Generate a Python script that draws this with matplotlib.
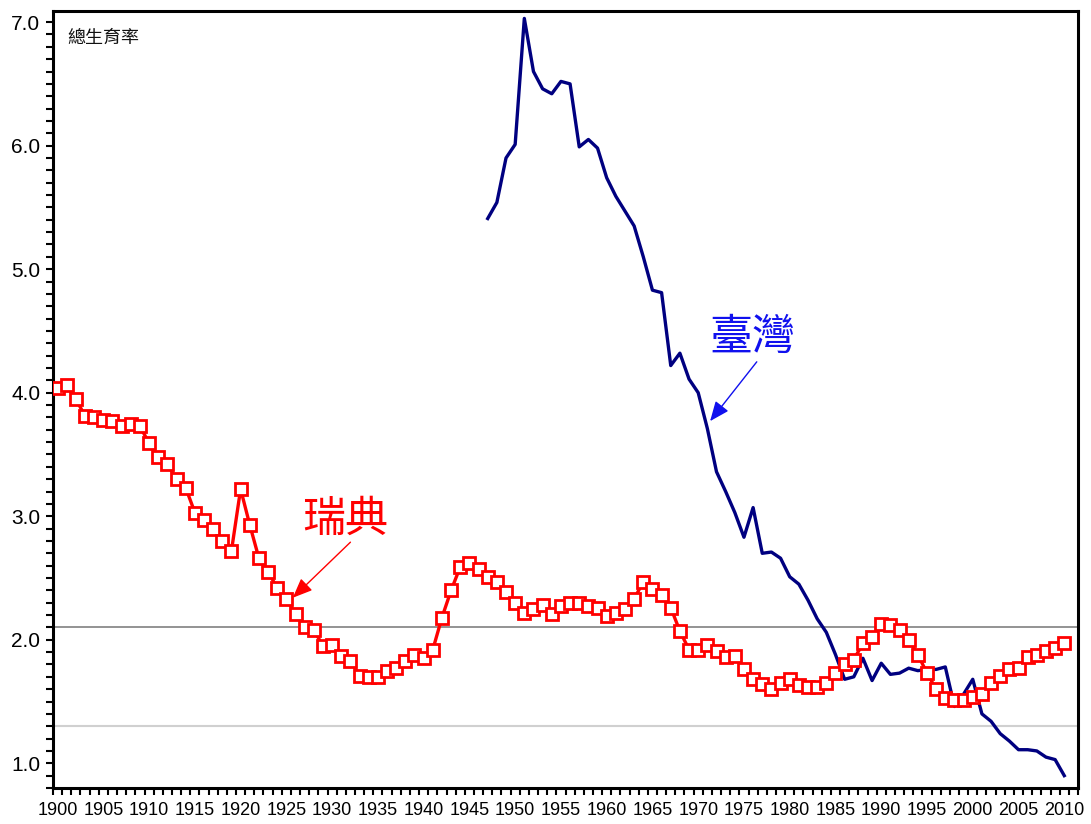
import matplotlib
matplotlib.use("Agg")
import matplotlib.pyplot as plt
from matplotlib.ticker import MultipleLocator, FixedLocator

plt.rcParams['font.family'] = ['Liberation Sans', 'Noto Sans CJK TC', 'DejaVu Sans']

sweden_years = list(range(1900, 2011))
sweden_tfr = [
    4.04, 4.06, 3.95, 3.81, 3.80, 3.78, 3.77, 3.73, 3.75, 3.73,   # 1900-1909
    3.59, 3.48, 3.42, 3.30, 3.23, 3.03, 2.97, 2.90, 2.80, 2.72,   # 1910-1919
    3.22, 2.93, 2.66, 2.55, 2.42, 2.33, 2.21, 2.10, 2.08, 1.95,   # 1920-1929
    1.96, 1.87, 1.83, 1.71, 1.70, 1.70, 1.75, 1.77, 1.83, 1.88,   # 1930-1939
    1.85, 1.92, 2.18, 2.40, 2.59, 2.62, 2.57, 2.51, 2.47, 2.39,   # 1940-1949
    2.30, 2.22, 2.25, 2.28, 2.21, 2.27, 2.30, 2.30, 2.27, 2.26,   # 1950-1959
    2.19, 2.22, 2.25, 2.33, 2.47, 2.41, 2.36, 2.26, 2.07, 1.92,   # 1960-1969
    1.92, 1.96, 1.91, 1.86, 1.87, 1.76, 1.68, 1.64, 1.60, 1.65,   # 1970-1979
    1.68, 1.63, 1.62, 1.62, 1.65, 1.73, 1.80, 1.84, 1.97, 2.02,   # 1980-1989
    2.13, 2.12, 2.08, 2.00, 1.88, 1.73, 1.60, 1.53, 1.51, 1.51,   # 1990-1999
    1.54, 1.56, 1.65, 1.71, 1.76, 1.77, 1.86, 1.88, 1.91, 1.93,   # 2000-2009
    1.97,                                                         # 2010
]

taiwan_years = list(range(1947, 2011))
taiwan_tfr = [
    5.41, 5.54, 5.90,                                             # 1947-1949
    6.01, 7.03, 6.60, 6.46, 6.42, 6.52, 6.50, 5.99, 6.05, 5.98,   # 1950-1959
    5.74, 5.59, 5.47, 5.35, 5.10, 4.83, 4.81, 4.22, 4.32, 4.11,   # 1960-1969
    4.00, 3.71, 3.36, 3.20, 3.03, 2.83, 3.07, 2.70, 2.71, 2.66,   # 1970-1979
    2.51, 2.45, 2.32, 2.17, 2.06, 1.88, 1.68, 1.70, 1.85, 1.67,   # 1980-1989
    1.81, 1.72, 1.73, 1.77, 1.75, 1.76, 1.76, 1.78, 1.46, 1.56,   # 1990-1999
    1.68, 1.40, 1.34, 1.24, 1.18, 1.11, 1.11, 1.10, 1.05, 1.03,   # 2000-2009
    0.90,                                                         # 2010
]

replacement_level = 2.1
lowest_low_level = 1.3

x_labels = list(range(1900, 2011, 5))
y_labels = [1.0, 2.0, 3.0, 4.0, 5.0, 6.0, 7.0]

fig = plt.figure(figsize=(10.91, 8.24), dpi=100)
ax = fig.add_axes([53/1091, 1 - 788/824, (1078-53)/1091, (788-11)/824])

ax.axhline(replacement_level, color='#808080', lw=1.2, zorder=1)
ax.axhline(lowest_low_level, color='#d0d0d0', lw=1.5, zorder=1)

ax.plot(taiwan_years, taiwan_tfr, color='#000080', lw=2.4, zorder=3)
ax.plot(sweden_years, sweden_tfr, color='#ff0000', lw=2.4, marker='s',
        markersize=8.4, markerfacecolor='white', markeredgecolor='#ff0000',
        markeredgewidth=2.0, zorder=4)

ax.set_xlim(1899.5, 2011.5)
ax.set_ylim(0.8, 7.09)

ax.set_xticks(x_labels)
ax.set_xticklabels([str(v) for v in x_labels], fontsize=13)
ax.xaxis.set_minor_locator(FixedLocator([y + 0.5 for y in range(1899, 2012)]))
ax.tick_params(axis='x', which='major', length=0, pad=10)
ax.tick_params(axis='x', which='minor', length=5, width=1.5, direction='out')

ax.set_yticks(y_labels)
ax.set_yticklabels([f"{v:.1f}" for v in y_labels], fontsize=15)
ax.yaxis.set_minor_locator(MultipleLocator(0.1))
ax.tick_params(axis='y', which='major', length=5, width=1.5, direction='out', pad=4)
ax.tick_params(axis='y', which='minor', length=5, width=1.5, direction='out')

for s in ax.spines.values():
    s.set_linewidth(2.2)
    s.set_color('black')

ax.text(1901.1, 6.87, '總生育率', fontsize=13, family=['Noto Sans CJK TC'],
        ha='left', va='center', color='#111111')

ax.text(1931.4, 2.97, '瑞典', fontsize=31, family=['Noto Sans CJK TC'],
        ha='center', va='center', color='#ff0000')
ax.annotate('', xy=(1925.7, 2.34), xytext=(1932.0, 2.79),
            arrowprops=dict(arrowstyle='-|>,head_length=1.2,head_width=0.5',
                            color='#ff0000', lw=1.0, shrinkA=0, shrinkB=0))

ax.text(1975.9, 4.44, '臺灣', fontsize=31, family=['Noto Sans CJK TC'],
        ha='center', va='center', color='#1010ee')
ax.annotate('', xy=(1971.3, 3.77), xytext=(1976.4, 4.25),
            arrowprops=dict(arrowstyle='-|>,head_length=1.2,head_width=0.5',
                            color='#1010ee', lw=1.0, shrinkA=0, shrinkB=0))

fig.savefig('out.png', dpi=100)
